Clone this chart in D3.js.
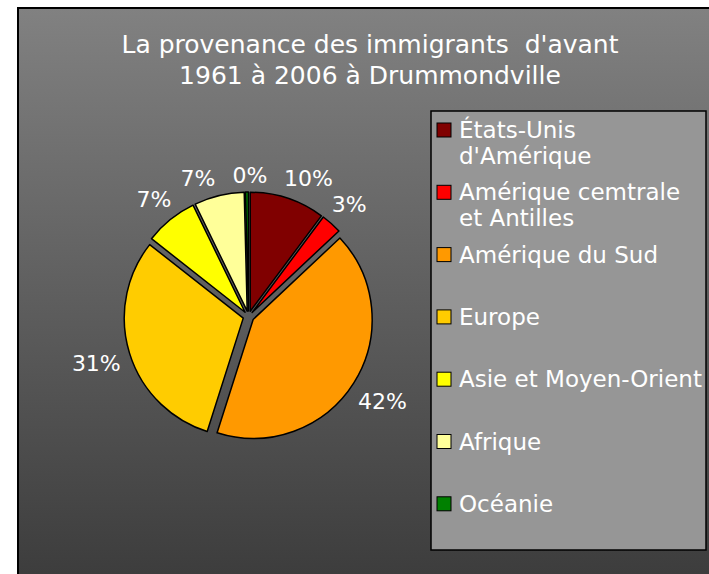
<!DOCTYPE html>
<html>
<head>
<meta charset="utf-8">
<script src="https://cdn.jsdelivr.net/npm/d3@7"></script>
<style>
  body { margin: 0; background: #fff; }
  text { font-family: "DejaVu Sans", sans-serif; fill: #fff; }
</style>
</head>
<body>
<div id="chart"></div>
<script>
// Data
const categories = ["États-Unis d'Amérique", "Amérique cemtrale et Antilles", "Amérique du Sud",
    "Europe", "Asie et Moyen-Orient", "Afrique", "Océanie"];
const legendLines = [["États-Unis", "d'Amérique"], ["Amérique cemtrale", "et Antilles"], ["Amérique du Sud"],
    ["Europe"], ["Asie et Moyen-Orient"], ["Afrique"], ["Océanie"]];
const values = [10.2, 2.8, 41.9, 30.7, 7.2, 6.8, 0.4];
const colors = ["#800000", "#FF0000", "#FF9900", "#FFCC00", "#FFFF00", "#FFFF99", "#008000"];
const titleLines = ["La provenance des immigrants  d'avant", "1961 à 2006 à Drummondville"];

var width = 709, height = 574;

const svg = d3.select("#chart").append("svg")
    .attr("width", width)
    .attr("height", height);

// background gradient
const grad = svg.append("defs").append("linearGradient")
    .attr("id", "bg").attr("x1", "0%").attr("y1", "0%").attr("x2", "0%").attr("y2", "100%");
grad.append("stop").attr("offset", "0%").attr("stop-color", "#818181");
grad.append("stop").attr("offset", "100%").attr("stop-color", "#3c3c3c");

svg.append("rect")
    .attr("x", 18).attr("y", 8)
    .attr("width", width).attr("height", height)
    .attr("fill", "url(#bg)")
    .attr("stroke", "#000").attr("stroke-width", 2);

// title
svg.append("g").selectAll("text")
    .data(titleLines)
    .join("text")
    .attr("x", 370)
    .attr("y", (d, i) => 53 + i * 31)
    .attr("text-anchor", "middle")
    .style("white-space", "pre")
    .style("font-size", "25px")
    .text(d => d);

// pie
const cx = 248.5, cy = 316.5, r = 119, explode = 5.5;
const pie = d3.pie().sort(null).value(d => d);
const arcs = pie(values);
const arc = d3.arc().innerRadius(0).outerRadius(r);
const fmt = d => Math.round(d / d3.sum(values) * 100) + "%";
const mid = d => (d.startAngle + d.endAngle) / 2;
const shift = d => [Math.sin(mid(d)) * explode, -Math.cos(mid(d)) * explode];

const g = svg.append("g").attr("transform", `translate(${cx},${cy})`);

g.selectAll("path.slice")
    .data(arcs)
    .join("path")
    .attr("class", "slice")
    .attr("transform", d => `translate(${shift(d)})`)
    .attr("d", arc)
    .attr("fill", (d, i) => colors[i])
    .attr("stroke", "#000")
    .attr("stroke-width", 1.5)
    .attr("stroke-linejoin", "round");

// labels outside end: box edge sits a small gap beyond the arc
const labels = g.selectAll("text.lbl")
    .data(arcs)
    .join("text")
    .attr("class", "lbl")
    .style("font-size", "22px")
    .attr("text-anchor", "middle")
    .text(d => fmt(d.value));

const hh = 8;
const boxes = [];
labels.each(function(d) {
    boxes.push({ d: d, a: mid(d), hw: this.getComputedTextLength() / 2 });
});
function place(b) {
    const s = Math.sin(b.a), c = Math.cos(b.a);
    const dist = r + 9 + Math.abs(s) * b.hw + Math.abs(c) * hh;
    const [ox, oy] = shift(b.d);
    b.x = ox + s * dist;
    b.y = oy - c * dist;
}
// push crowded labels apart along the circle
const pad = 16;
for (let k = 0; k < 200; k++) {
    boxes.forEach(place);
    let moved = false;
    for (let i = 0; i < boxes.length; i++) {
        for (let j = i + 1; j < boxes.length; j++) {
            const p = boxes[i], q = boxes[j];
            if (Math.abs(p.y - q.y) >= 2 * hh) continue;
            const [L, R] = p.x < q.x ? [p, q] : [q, p];
            const gap = (R.x - R.hw) - (L.x + L.hw);
            if (gap < pad) {
                L.a -= 0.004 * Math.sign(Math.cos(L.a));
                R.a += 0.004 * Math.sign(Math.cos(R.a));
                moved = true;
            }
        }
    }
    if (!moved) break;
}
boxes.forEach(place);
labels
    .attr("x", (d, i) => boxes[i].x)
    .attr("y", (d, i) => boxes[i].y + hh);

// legend
const legend = svg.append("g").attr("transform", "translate(431,111)");
legend.append("rect")
    .attr("width", 275).attr("height", 439)
    .attr("fill", "#969696")
    .attr("stroke", "#000").attr("stroke-width", 1.5);

const item = legend.selectAll("g.item")
    .data(categories)
    .join("g")
    .attr("class", "item")
    .attr("transform", (d, i) => `translate(6,${19 + i * 62.3})`);

item.append("rect")
    .attr("y", -7).attr("width", 14).attr("height", 14)
    .attr("fill", (d, i) => colors[i])
    .attr("stroke", "#000").attr("stroke-width", 1);

item.append("text")
    .attr("x", 22)
    .attr("y", 8)
    .style("font-size", "23px")
    .selectAll("tspan")
    .data((d, i) => legendLines[i])
    .join("tspan")
    .attr("x", 22)
    .attr("dy", (d, i) => i === 0 ? 0 : 26)
    .text(d => d);
</script>
</body>
</html>
